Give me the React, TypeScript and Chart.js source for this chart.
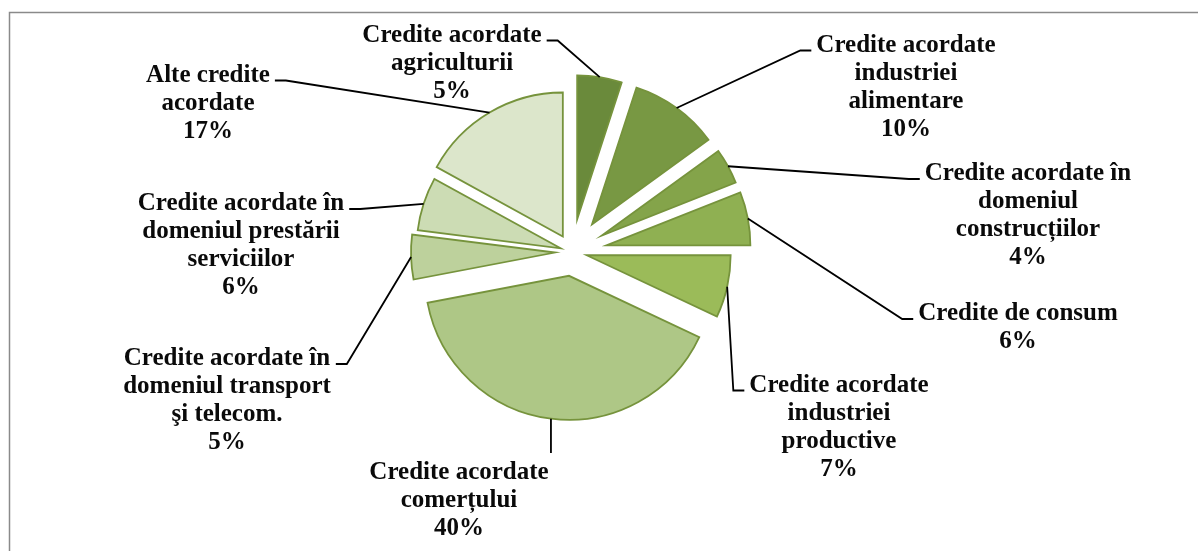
import React, { useEffect, useRef } from 'react';
import { Chart, registerables } from 'chart.js';

Chart.register(...registerables);

// ---- data ----
const categories: string[][] = [
  ['Credite acordate', 'agriculturii'],
  ['Credite acordate', 'industriei', 'alimentare'],
  ['Credite acordate în', 'domeniul', 'construcțiilor'],
  ['Credite de consum'],
  ['Credite acordate', 'industriei', 'productive'],
  ['Credite acordate', 'comerțului'],
  ['Credite acordate în', 'domeniul transport', 'şi telecom.'],
  ['Credite acordate în', 'domeniul prestării', 'serviciilor'],
  ['Alte credite', 'acordate'],
];
const values: number[] = [5, 10, 4, 6, 7, 40, 5, 6, 17];

// ---- styles ----
const sliceColors = ['#6A8A3B', '#789843', '#84A44A', '#8FB052', '#9BBB59', '#AEC786', '#BDD19C', '#CCDCB4', '#DCE6CB'];
const borderColor = '#76933C';
// explosion distance of each slice (px)
const explode = [33, 34, 34, 35, 15, 24, 17, 12, 18];
// label anchor: [dx of text centre, dy of first baseline] relative to pie centre; side of connector
const labelAnchors: [number, number, 'L' | 'R' | 'T'][] = [
  [-120, -210.5, 'L'],
  [334, -200.5, 'R'],
  [456, -72, 'R'],
  [446, 68, 'R'],
  [267, 139.5, 'R'],
  [-113, 227, 'T'],
  [-345, 113, 'L'],
  [-331, -42, 'L'],
  [-364, -170.5, 'L'],
];
const FONT = 'bold 25px "Liberation Serif", "Times New Roman", serif';
const LINE_H = 28;

const W = 1198;
const H = 551;
const CX = 572;
const CY = 252;

export default function App() {
  const ref = useRef<HTMLCanvasElement | null>(null);

  useEffect(() => {
    if (!ref.current) return;

    const explodedPlugin = {
      id: 'explodedPie',
      beforeDraw(chart: any) {
        const ctx = chart.ctx;
        ctx.save();
        ctx.fillStyle = '#ffffff';
        ctx.fillRect(0, 0, chart.width, chart.height);
        ctx.strokeStyle = '#8a8a8a';
        ctx.lineWidth = 1.5;
        ctx.beginPath();
        ctx.moveTo(9.5, chart.height + 5);
        ctx.lineTo(9.5, 12.5);
        ctx.lineTo(chart.width + 5, 12.5);
        ctx.stroke();
        ctx.restore();
      },
      beforeDatasetDraw(chart: any, args: any) {
        const ctx = chart.ctx;
        args.meta.data.forEach((arc: any, i: number) => {
          const mid = (arc.startAngle + arc.endAngle) / 2;
          ctx.save();
          ctx.translate(Math.cos(mid) * explode[i], Math.sin(mid) * explode[i]);
          arc.draw(ctx);
          ctx.restore();
        });
        return false;
      },
      afterDraw(chart: any) {
        const ctx = chart.ctx;
        const meta = chart.getDatasetMeta(0);
        ctx.save();
        ctx.font = FONT;
        ctx.fillStyle = '#0a0a0a';
        ctx.strokeStyle = '#000000';
        ctx.lineWidth = 1.8;
        ctx.textAlign = 'center';
        ctx.textBaseline = 'alphabetic';
        meta.data.forEach((arc: any, i: number) => {
          const mid = (arc.startAngle + arc.endAngle) / 2;
          const ex = arc.x + Math.cos(mid) * explode[i];
          const ey = arc.y + Math.sin(mid) * explode[i];
          const px = ex + Math.cos(mid) * arc.outerRadius;
          const py = ey + Math.sin(mid) * arc.outerRadius;
          const [dx, dy, side] = labelAnchors[i];
          const lx = arc.x + dx;
          const ly = arc.y + dy;
          const lines = [...categories[i], `${values[i]}%`];
          const maxW = Math.max(...lines.map((t) => ctx.measureText(t).width));
          const left = lx - maxW / 2;
          const right = lx + maxW / 2;
          ctx.beginPath();
          ctx.moveTo(px, py);
          if (side === 'R') {
            const sy = ly - 1;
            ctx.lineTo(left - 16, sy);
            ctx.lineTo(left - 5, sy);
          } else if (side === 'L') {
            const sy = ly - 1;
            ctx.lineTo(right + 16, sy);
            ctx.lineTo(right + 5, sy);
          } else {
            ctx.lineTo(px, ly - 26);
          }
          ctx.stroke();
          lines.forEach((t, k) => ctx.fillText(t, lx, ly + k * LINE_H));
        });
        ctx.restore();
      },
    };

    const chart = new Chart(ref.current, {
      type: 'pie',
      data: {
        labels: categories.map((c) => c.join(' ')),
        datasets: [
          {
            data: values,
            backgroundColor: sliceColors,
            borderColor: borderColor,
            borderWidth: 1.8,
            borderJoinStyle: 'miter',
          } as any,
        ],
      },
      options: {
        responsive: false,
        animation: false,
        devicePixelRatio: 1,
        radius: 144,
        rotation: 0,
        layout: { padding: { left: 0, top: 0, right: W - 2 * CX, bottom: H - 2 * CY } },
        plugins: { legend: { display: false }, tooltip: { enabled: false } },
        events: [],
      } as any,
      plugins: [explodedPlugin],
    });
    return () => chart.destroy();
  }, []);

  return (
    <div style={{ position: 'fixed', left: 0, top: 0, width: W, height: H, background: '#fff' }}>
      <canvas ref={ref} width={W} height={H} style={{ width: W, height: H, display: 'block' }} />
    </div>
  );
}
